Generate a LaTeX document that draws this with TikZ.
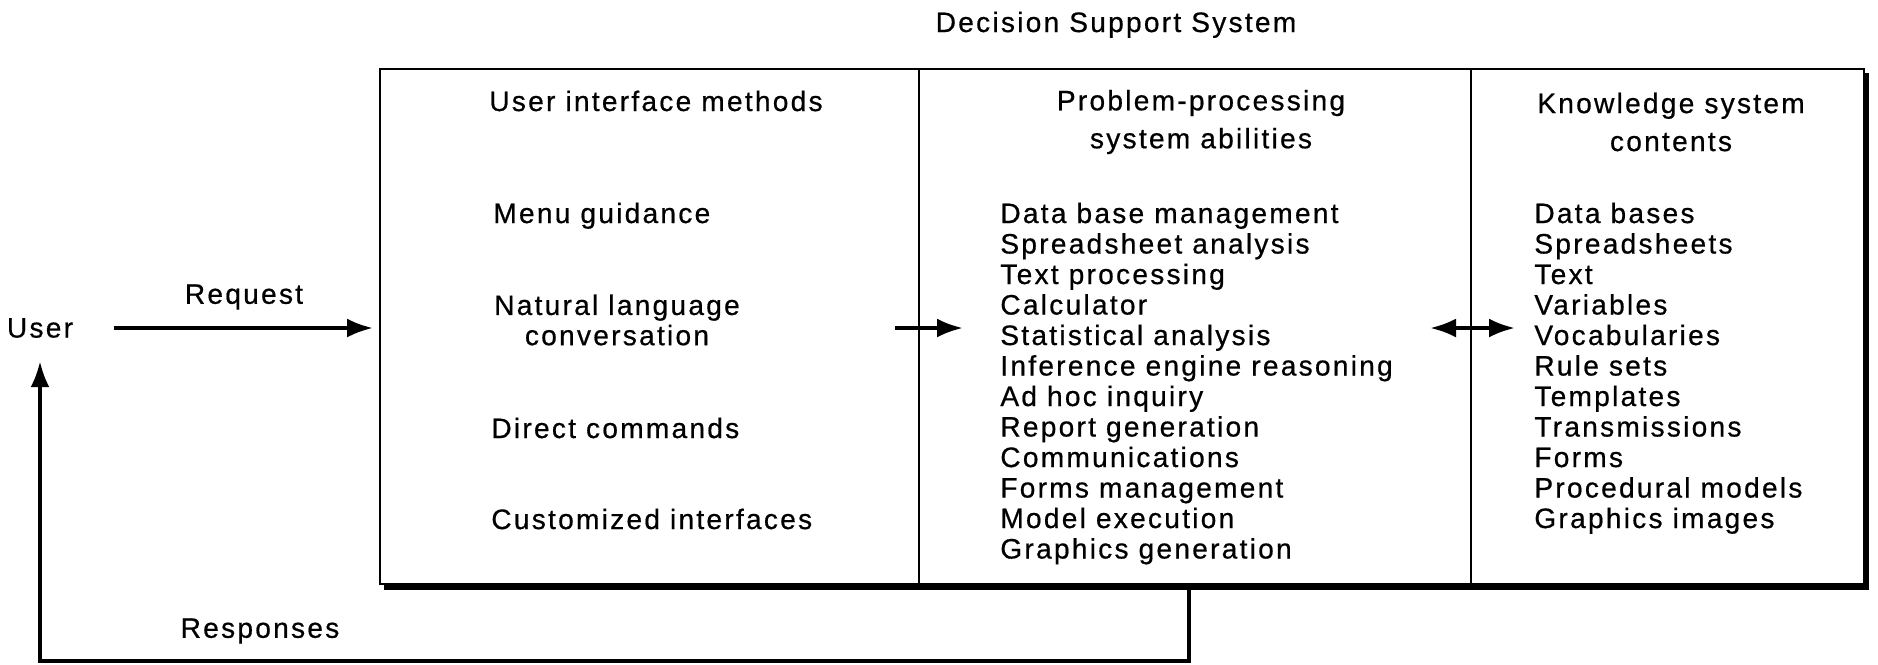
\documentclass[tikz,border=0pt]{standalone}
\usepackage{fontspec}
\setmainfont{Liberation Sans}[LetterSpace=8,FakeBold=0.6]
\usepackage{tikz}
\usetikzlibrary{positioning,arrows.meta,backgrounds}

\begin{document}
\begin{tikzpicture}[x=0.02cm, y=-0.02cm,
    colbox/.style={draw, line width=1.4pt, fill=white, minimum height=10.3cm, inner sep=0pt, outer sep=0pt},
    lbl/.style={font=\fontsize{16}{17.2}\selectfont, inner sep=0pt},
    head/.style={lbl, align=center, font=\fontsize{16}{21.6}\selectfont},
    item/.style={lbl, anchor=base west},
    flow/.style={line width=2.2pt, -{Latex[length=0.52cm, width=0.38cm]}},
    twoway/.style={flow, {Latex[length=0.52cm, width=0.38cm]}-{Latex[length=0.52cm, width=0.38cm]}}]
    \useasboundingbox (0,0) rectangle (1878,664);

    \node[lbl, anchor=base] (dss) at (1116,32) {Decision Support System};

    % the three columns of the system
    \node[colbox, minimum width=10.78cm] (uim) at (649.5,326.5) {};
    \node[colbox, minimum width=11.04cm, right=0pt of uim] (ppsa) {};
    \node[colbox, minimum width=7.86cm, right=0pt of ppsa] (ksc) {};
    \begin{scope}[on background layer]
        \fill ([xshift=0.08cm,yshift=-0.08cm]uim.north west) rectangle ([xshift=0.11cm,yshift=-0.13cm]ksc.south east);
    \end{scope}

    \node[lbl, anchor=base] (uimh) at (656,111) {User interface methods};
    \node[head] (ppsah) at (1201,122) {Problem-processing\\system abilities};
    \node[head] (ksch) at (1671,122) {Knowledge system\\contents};

    \node[item] (menu) at (493,223) {Menu guidance};
    \node[lbl, align=center] (nat) at (617,320) {Natural language\\conversation};
    \node[item] (direct) at (491,438) {Direct commands};
    \node[item] (custom) at (491,529) {Customized interfaces};

    \foreach \t[count=\i] in {Data base management, Spreadsheet analysis, Text processing,
        Calculator, Statistical analysis, Inference engine reasoning, Ad hoc inquiry,
        Report generation, Communications, Forms management, Model execution,
        Graphics generation} {
        \node[item] (pp\i) at (1000, 192.5+\i*30.5) {\t};
    }
    \foreach \t[count=\i] in {Data bases, Spreadsheets, Text, Variables, Vocabularies,
        Rule sets, Templates, Transmissions, Forms, Procedural models, Graphics images} {
        \node[item] (ks\i) at (1534, 192.5+\i*30.5) {\t};
    }

    % user side
    \node[lbl] (user) at (40,328) {User};
    \node[lbl] (req) at (244,297) {Request};
    \node[lbl] (resp) at (260,631) {Responses};

    \draw[flow, shorten <=0.82cm, shorten >=0.14cm] (user.east) -- (user.east -| uim.west);
    \coordinate (tap) at (1189,588);
    \coordinate (turn) at (40,661);
    \draw[flow, shorten >=0.46cm] (tap) |- (turn) -- (user);

    \coordinate (a1) at (895,328);
    \coordinate (b1) at (963,328);
    \draw[flow] (a1) -- (b1);
    \coordinate (a2) at (1430,328);
    \coordinate (b2) at (1515,328);
    \draw[twoway] (a2) -- (b2);
\end{tikzpicture}
\end{document}
